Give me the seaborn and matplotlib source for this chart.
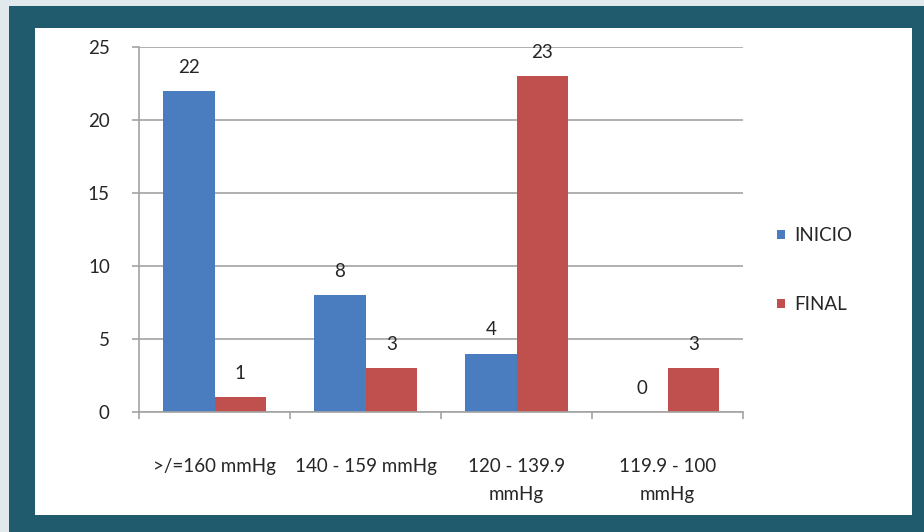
import numpy as np
import pandas as pd
import matplotlib
matplotlib.use("Agg")
import matplotlib.pyplot as plt
from matplotlib.patches import Rectangle
import seaborn as sns

# data
categories = [">/=160 mmHg", "140 - 159 mmHg", "120 - 139.9\nmmHg", "119.9 - 100\nmmHg"]
inicio = [22, 8, 4, 0]
final = [1, 3, 23, 3]
series = ["INICIO", "FINAL"]
y_ticks = [0, 5, 10, 15, 20, 25]

df = pd.DataFrame({
    "rango": categories * 2,
    "valor": inicio + final,
    "serie": [series[0]] * len(categories) + [series[1]] * len(categories),
})

sns.set_style("white")
plt.rcParams['font.family'] = ['Lato', 'DejaVu Sans']
txt = '#262626'
grid = '#a3a3a3'
fs = 13.5

fig = plt.figure(figsize=(9.24, 5.32), dpi=100)
fig.patch.set_facecolor('#e1e9ec')
W, H = 924, 532
# teal frame and white panel
fig.patches.append(Rectangle((9 / W, 0), 1 - 9 / W, 1 - 6 / H, transform=fig.transFigure,
                             facecolor='#205a6d', edgecolor='none', zorder=-2))
fig.patches.append(Rectangle((35 / W, 17 / H), (912 - 35) / W, (515 - 28) / H,
                             transform=fig.transFigure, facecolor='white',
                             edgecolor='none', zorder=-1))

ax = fig.add_axes([139 / W, 1 - 412 / H, (743 - 139) / W, (412 - 47) / H])
ax.set_zorder(2)
ax.set_facecolor('none')

sns.barplot(data=df, x="rango", y="valor", hue="serie", ax=ax,
            palette={"INICIO": "#4a7dc0", "FINAL": "#c0504d"},
            saturation=1, width=0.68, edgecolor='none', errorbar=None)

for cont in ax.containers:
    ax.bar_label(cont, padding=11, fontsize=fs, color=txt)

ax.set_ylim(0, 25)
ax.set_yticks(y_ticks)
ax.set_xlim(-0.5, 3.5)
ax.set_xlabel("")
ax.set_ylabel("")
ax.yaxis.grid(True, color=grid, lw=1.2)
ax.set_axisbelow(True)
for s in ["top", "right"]:
    ax.spines[s].set_visible(False)
for s in ["left", "bottom"]:
    ax.spines[s].set_color(grid)
    ax.spines[s].set_linewidth(1.2)

ax.tick_params(axis='y', length=5, width=1.2, color=grid, pad=16, labelsize=fs, labelcolor=txt, left=True)
ax.tick_params(axis='x', which='major', length=0, pad=33, labelsize=fs, labelcolor=txt)
ax.set_xticks(np.arange(-0.5, 4, 1), minor=True)
ax.tick_params(axis='x', which='minor', length=5, width=1.2, color=grid, bottom=True)
for lab in ax.get_xticklabels():
    lab.set_linespacing(1.8)

ax.legend_.remove()
handles, labels = ax.get_legend_handles_labels()
leg = fig.legend(handles, labels, loc='upper left', bbox_to_anchor=(768 / W, 1 - 218 / H),
                 frameon=False, fontsize=fs, labelspacing=2.75, handlelength=0.4,
                 handleheight=0.4, handletextpad=0.5, borderpad=0, labelcolor=txt)
leg.set_zorder(3)

fig.savefig("out.png", dpi=100, facecolor=fig.get_facecolor())
